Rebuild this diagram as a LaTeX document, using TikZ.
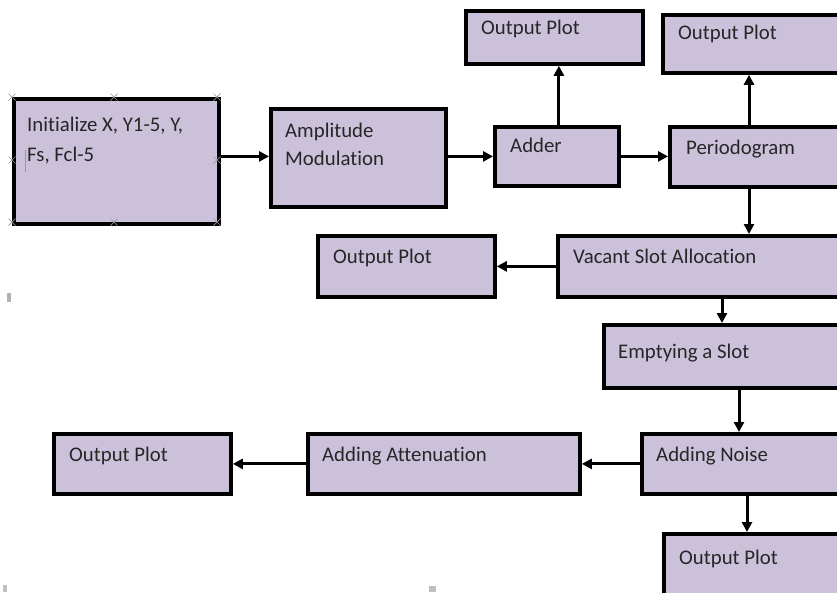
\documentclass[tikz,border=0pt]{standalone}
\usepackage{fontspec}
\setmainfont{Carlito}[Ligatures=NoCommon]
\usetikzlibrary{arrows.meta}
\definecolor{boxfill}{HTML}{CCC1DA}
\definecolor{txtcol}{HTML}{262626}
\tikzset{
  box/.style={draw=black, line width=3.8pt, fill=boxfill, anchor=north west, inner sep=0pt},
  txt/.style={anchor=base west, inner sep=0pt, text=txtcol, font=\fontsize{20.8}{30}\selectfont},
  arr/.style={line width=3pt, -{Triangle[length=10pt,width=10pt]}},
  handle/.style={draw=gray!80, line width=0.7pt},
}
\begin{document}
\begin{tikzpicture}[x=1pt,y=-1pt]
\clip (0,0) rectangle (837,592);
\fill[white] (0,0) rectangle (837,592);

% boxes
\node[box, minimum width=205pt, minimum height=125pt] (init)   at (12,97)  {};
\node[box, minimum width=175pt, minimum height=98pt]  (amp)    at (269,107) {};
\node[box, minimum width=124pt, minimum height=59pt]  (adder)  at (493,125) {};
\node[box, minimum width=177pt, minimum height=53pt]  (out1)   at (464,9)   {};
\node[box, minimum width=200pt, minimum height=58pt]  (out2)   at (661,13)  {};
\node[box, minimum width=200pt, minimum height=60pt]  (perio)  at (668,125) {};
\node[box, minimum width=177pt, minimum height=61pt]  (out3)   at (316,234) {};
\node[box, minimum width=300pt, minimum height=61pt]  (vacant) at (556,234) {};
\node[box, minimum width=250pt, minimum height=63pt]  (empty)  at (602,323) {};
\node[box, minimum width=220pt, minimum height=60pt]  (noise)  at (640,432) {};
\node[box, minimum width=272pt, minimum height=60pt]  (atten)  at (306,432) {};
\node[box, minimum width=177pt, minimum height=60pt]  (out4)   at (52,432)  {};
\node[box, minimum width=200pt, minimum height=80pt]  (out5)   at (662,532) {};

% labels
\node[txt] (tinit1) at ([shift={(15,34)}]init.north west) {Initialize X, Y1-5, Y,};
\node[txt] (tinit2) at ([shift={(15,64)}]init.north west) {Fs, Fcl-5};
\node[txt] (tamp1)  at ([shift={(16,30)}]amp.north west) {Amplitude};
\node[txt] (tamp2)  at ([shift={(16,58)}]amp.north west) {Modulation};
\node[txt] (tadd)   at ([shift={(17,27)}]adder.north west) {Adder};
\node[txt] (tout1)  at ([shift={(17,25)}]out1.north west) {Output Plot};
\node[txt] (tout2)  at ([shift={(17,26)}]out2.north west) {Output Plot};
\node[txt] (tper)   at ([shift={(18,29)}]perio.north west) {Periodogram};
\node[txt] (tout3)  at ([shift={(17,29)}]out3.north west) {Output Plot};
\node[txt] (tvac)   at ([shift={(17,29)}]vacant.north west) {Vacant Slot Allocation};
\node[txt] (temp)   at ([shift={(16,35)}]empty.north west) {Emptying a Slot};
\node[txt] (tnoi)   at ([shift={(16,29)}]noise.north west) {Adding Noise};
\node[txt] (tatt)   at ([shift={(16,29)}]atten.north west) {Adding Attenuation};
\node[txt] (tout4)  at ([shift={(17,29)}]out4.north west) {Output Plot};
\node[txt] (tout5)  at ([shift={(17,32)}]out5.north west) {Output Plot};

% connectors
\draw[arr] (init.east |- adder.west) -- (amp.west |- adder.west);
\draw[arr] (amp.east |- adder.west) -- (adder.west);
\draw[arr] (adder.east) -- (perio.west |- adder.east);
\draw[arr] ([xshift=2pt]adder.north) -- ([xshift=2pt]adder.north |- out1.south);
\draw[arr] ([xshift=81pt]perio.north west) -- ([xshift=81pt]perio.north west |- out2.south);
\draw[arr] ([xshift=81pt]perio.south west) -- ([xshift=81pt]perio.south west |- vacant.north);
\draw[arr] (vacant.west) -- (out3.east |- vacant.west);
\draw[arr] ([xshift=166pt]vacant.south west) -- ([xshift=166pt]vacant.south west |- empty.north);
\draw[arr] ([xshift=137pt]empty.south west) -- ([xshift=137pt]empty.south west |- noise.north);
\draw[arr] (noise.west) -- (atten.east |- noise.west);
\draw[arr] (atten.west) -- (out4.east |- atten.west);
\draw[arr] ([xshift=107pt]noise.south west) -- ([xshift=107pt]noise.south west |- out5.north);

% selection handles and text cursor on the first box
\foreach \p in {(12,97),(114,97),(217,97),(12,160),(217,160),(12,222),(114,222),(217,222)}{
  \draw[handle] \p ++(-3.5,-3.5) -- ++(7,7) \p ++(-3.5,3.5) -- ++(7,-7);
}
\draw[gray!80, line width=0.7pt] (25,150) -- (25,172);

% stray marks
\fill[gray!60] (7,293) rectangle (11,302);
\fill[gray!50] (3,585) rectangle (7,592);
\fill[gray!50] (429,586) rectangle (436,592);
\end{tikzpicture}
\end{document}
